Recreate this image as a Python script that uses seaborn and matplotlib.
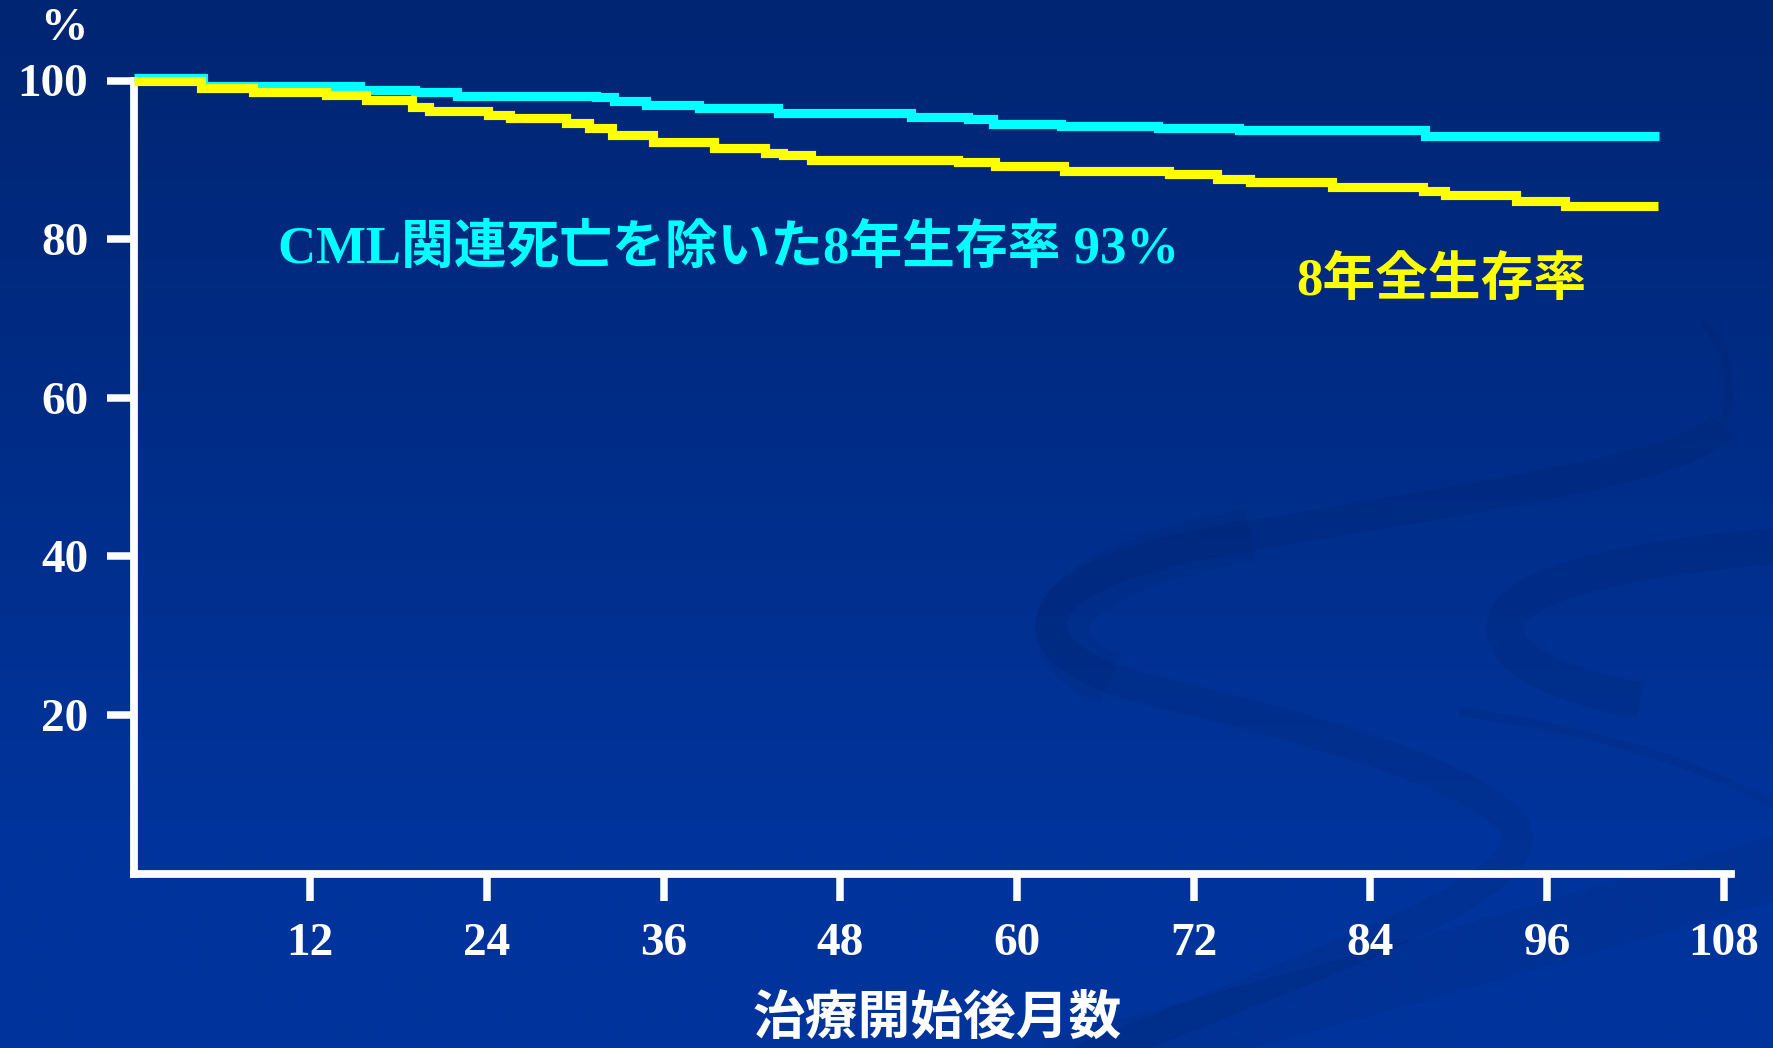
import numpy as np
import matplotlib
matplotlib.use("Agg")
import matplotlib.pyplot as plt
from matplotlib.path import Path
from matplotlib.patches import PathPatch
import seaborn as sns

# Kaplan-Meier curves: month at which each step starts, survival (%) from that month
os_months = [0, 4.6, 8.1, 13.1, 15.8, 18.9, 20.1, 24.1, 25.6, 29.4, 30.9, 32.5,
             35.3, 39.4, 42.9, 44.1, 46.0, 56.0, 58.5, 63.2, 70.3, 73.6, 75.8,
             81.4, 87.6, 89.1, 93.9, 97.2]
os_survival = [100.0, 99.0, 98.6, 98.2, 97.6, 96.7, 96.2, 95.6, 95.3, 94.7, 94.05,
               93.1, 92.3, 91.45, 90.9, 90.65, 90.0, 89.7, 89.25, 88.55, 88.2,
               87.6, 87.15, 86.6, 86.1, 85.5, 84.85, 84.2]
os_last_month = 103.5

cml_months = [0, 4.7, 15.4, 19.1, 22.0, 31.4, 32.6, 34.8, 38.4, 43.8, 52.8,
              56.7, 58.4, 63.0, 69.6, 75.1, 87.7]
cml_survival = [100.3, 99.3, 98.8, 98.5, 98.1, 97.9, 97.4, 96.95, 96.5, 95.9,
                95.4, 95.2, 94.55, 94.3, 94.0, 93.8, 93.0]
cml_last_month = 103.6

x_ticks = [12, 24, 36, 48, 60, 72, 84, 96, 108]
y_ticks = [20, 40, 60, 80, 100]

cml_label = "CML関連死亡を除いた8年生存率 93%"
os_label = "8年全生存率"
x_label = "治療開始後月数"
y_unit = "%"

plt.rcParams["font.family"] = ["Liberation Serif", "Noto Sans CJK JP"]
plt.rcParams["font.weight"] = "bold"

W, H = 1774, 1048
fig = plt.figure(figsize=(W / 100, H / 100), dpi=100)

# ---- slide background: vertical blue gradient with soft darker swooshes ----
bg = fig.add_axes([0, 0, 1, 1], zorder=0)
t = np.linspace(0, 1, 512)[:, None, None]
top_c = np.array([0, 37, 114]) / 255
bot_c = np.array([0, 52, 156]) / 255
grad = top_c + (bot_c - top_c) * np.clip(t * 1.25, 0, 1)
bg.imshow(grad, extent=[0, W, H, 0], aspect="auto", interpolation="bilinear")
bg.set_xlim(0, W)
bg.set_ylim(H, 0)
bg.axis("off")

def swoosh(points, width, alpha):
    codes = [Path.MOVETO] + [Path.CURVE4] * (len(points) - 1)
    bg.add_patch(PathPatch(Path(points, codes), fill=False, lw=width,
                           edgecolor=(0, 0, 0, alpha), capstyle="butt"))

# large S-shaped loop
swoosh([(1703, 322), (1730, 350), (1735, 400), (1722, 425)], 6, 0.05)
swoosh([(1722, 425), (1690, 470), (1450, 500), (1200, 545),
        (1000, 585), (1020, 660), (1150, 690),
        (1300, 725), (1460, 770), (1510, 820),
        (1560, 880), (1350, 950), (1080, 1060)], 22, 0.055)
swoosh([(1250, 535), (1050, 570), (1020, 640), (1110, 680)], 38, 0.04)
# right-hand loop
swoosh([(1790, 545), (1650, 555), (1510, 580), (1505, 625),
        (1500, 665), (1580, 690), (1640, 700)], 26, 0.055)
# lower diagonal band
swoosh([(1800, 860), (1600, 920), (1350, 990), (1050, 1070)], 45, 0.05)
# thin stroke
swoosh([(1460, 712), (1600, 730), (1720, 770), (1800, 820)], 6, 0.05)

# ---- survival plot ----
ax_left, ax_bottom = 133.5 / W, 1 - 873.6 / H
ax = fig.add_axes([ax_left, ax_bottom, 108.5 * 14.725 / W, (873.6 - 80.5) / H],
                  zorder=1)
ax.patch.set_alpha(0)

cml_x = cml_months + [cml_last_month]
cml_y = cml_survival + [cml_survival[-1]]
os_x = os_months + [os_last_month]
os_y = os_survival + [os_survival[-1]]

line_kw = dict(drawstyle="steps-post", lw=6.6, estimator=None, ax=ax,
               clip_on=False, solid_capstyle="butt", solid_joinstyle="miter")
sns.lineplot(x=cml_x, y=cml_y, color="#00FFFF", zorder=3, **line_kw)
sns.lineplot(x=os_x, y=os_y, color="#FFFF00", zorder=4, **line_kw)

ax.set_xlim(0, 108.5)
ax.set_ylim(0, 100)
ax.set_xticks(x_ticks)
ax.set_yticks(y_ticks)
ax.set_xlabel("")
ax.set_ylabel("")
for side in ("top", "right"):
    ax.spines[side].set_visible(False)
for side in ("left", "bottom"):
    ax.spines[side].set_color("white")
    ax.spines[side].set_linewidth(5.6)
    ax.spines[side].set_capstyle("projecting")
ax.tick_params(axis="both", direction="out", length=19.5, width=5.4,
               color="white", labelcolor="white", labelsize=34)
ax.tick_params(axis="x", pad=16)
ax.tick_params(axis="y", pad=13)
for lab in ax.get_xticklabels() + ax.get_yticklabels():
    lab.set_fontweight("bold")

# ---- texts ----
fig.text(64 / W, 1 - 29 / H, y_unit, ha="center", va="center",
         fontsize=34, color="white", weight="bold")
fig.text(937 / W, 1 - 1018.5 / H, x_label, ha="center", va="center",
         fontsize=38, color="white", weight="bold",
         family=["Noto Sans CJK JP"])
fig.text(277.6 / W, 1 - 263 / H, cml_label, ha="left", va="baseline",
         fontsize=38, color="#00FFFF", weight="bold")
fig.text(1296.7 / W, 1 - 295 / H, os_label, ha="left", va="baseline",
         fontsize=38, color="#FFFF00", weight="bold")

fig.savefig("out.png", dpi=100)
